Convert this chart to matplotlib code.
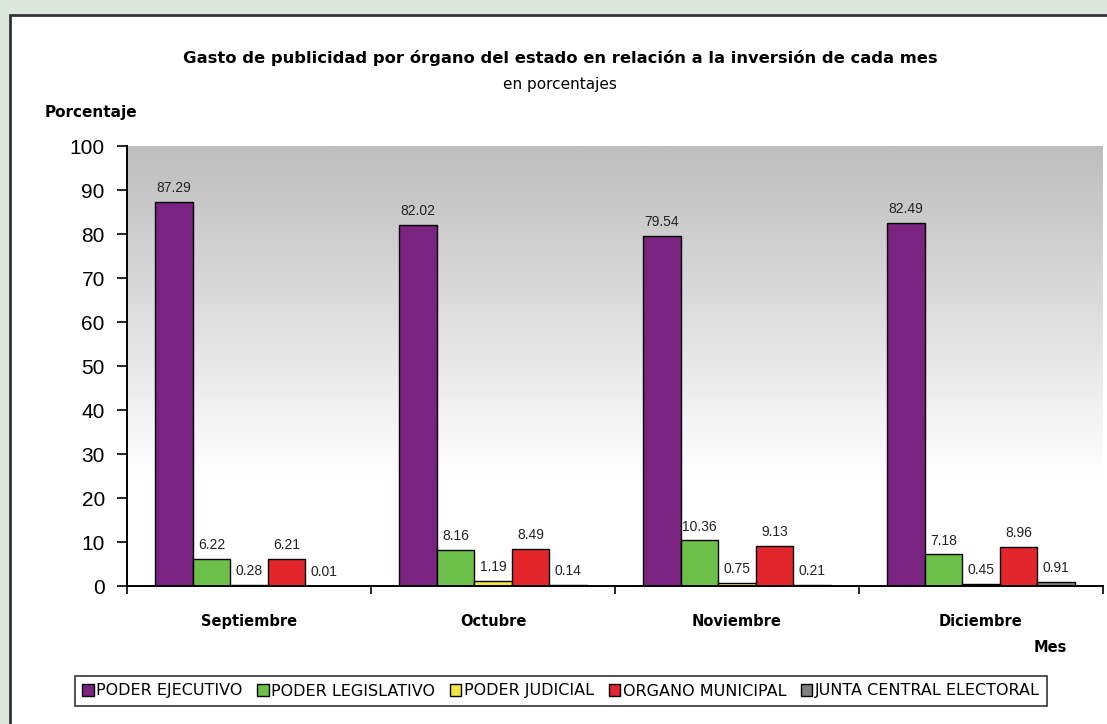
import matplotlib
matplotlib.use("Agg")
import matplotlib.pyplot as plt
import numpy as np
from matplotlib.patches import Rectangle
from matplotlib.colors import LinearSegmentedColormap

months = ["Septiembre", "Octubre", "Noviembre", "Diciembre"]
series_names = [
    "PODER EJECUTIVO",
    "PODER LEGISLATIVO",
    "PODER JUDICIAL",
    "ORGANO MUNICIPAL",
    "JUNTA CENTRAL ELECTORAL",
]
ejecutivo = [87.29, 82.02, 79.54, 82.49]
legislativo = [6.22, 8.16, 10.36, 7.18]
judicial = [0.28, 1.19, 0.75, 0.45]
municipal = [6.21, 8.49, 9.13, 8.96]
junta = [0.01, 0.14, 0.21, 0.91]
yticks = [0, 10, 20, 30, 40, 50, 60, 70, 80, 90, 100]

colors = ["#7b2380", "#6cc04a", "#f2e640", "#e3262b", "#7f7f7f"]
W, H = 1107, 724

fig = plt.figure(figsize=(W / 100, H / 100), dpi=100)
fig.patch.set_facecolor("#dbe7dc")
# white chart sheet with dark frame
fig.add_artist(Rectangle((10 / W, -0.05), 1.2, 1 - 15 / H + 0.05, transform=fig.transFigure,
                         facecolor="white", edgecolor="#333333", linewidth=2.0, zorder=0))

ax = fig.add_axes([127 / W, 138 / H, 976 / W, 440 / H])
ax.set_facecolor("none")

# gray-to-white gradient in plot area
grad = np.linspace(0, 1, 256).reshape(-1, 1)
cmap = LinearSegmentedColormap.from_list("g", [(0, "#ffffff"), (0.25, "#ffffff"), (0.55, "#e4e4e4"), (1, "#bdbdbd")])
ax.imshow(grad, extent=[-0.5, 3.5, 0, 100], origin="lower", aspect="auto", cmap=cmap, zorder=0)

data = [ejecutivo, legislativo, judicial, municipal, junta]
x = np.arange(len(months))
bw = 0.154
for i, (vals, c, name) in enumerate(zip(data, colors, series_names)):
    xs = x + (i - 2) * bw
    ax.bar(xs, vals, width=bw, color=c, edgecolor="black", linewidth=1.0, label=name, zorder=2)
    for xi, v in zip(xs, vals):
        ax.annotate(f"{v:.2f}", (xi, v), xytext=(0, 10), textcoords="offset points",
                    ha="center", va="center", fontsize=10, color="#222222",
                    family="Liberation Sans", zorder=3)

ax.set_xlim(-0.5, 3.5)
ax.set_ylim(0, 100)
ax.set_yticks(yticks)
ax.set_yticklabels([str(t) for t in yticks], family="Liberation Sans", fontsize=15)
ax.tick_params(axis="y", length=7, width=1.2, pad=9)
ax.set_xticks(x)
ax.set_xticklabels(months, fontsize=10.5, fontweight="bold")
ax.tick_params(axis="x", which="major", length=0, pad=20)
ax.set_xticks(np.arange(-0.5, 4.0, 1.0), minor=True)
ax.tick_params(axis="x", which="minor", length=6, width=1.2)
for s in ["top", "right"]:
    ax.spines[s].set_visible(False)
ax.spines["left"].set_linewidth(1.4)
ax.spines["bottom"].set_linewidth(1.4)

fig.text(560 / W, 1 - 58 / H, "Gasto de publicidad por órgano del estado en relación a la inversión de cada mes",
         ha="center", va="center", fontsize=11.8, fontweight="bold")
fig.text(560 / W, 1 - 84 / H, "en porcentajes", ha="center", va="center", fontsize=11)
fig.text(45 / W, 1 - 113 / H, "Porcentaje", ha="left", va="center", fontsize=11, fontweight="bold")
fig.text(1050 / W, 1 - 648 / H, "Mes", ha="center", va="center", fontsize=10.5, fontweight="bold")

leg = fig.legend(loc="center", bbox_to_anchor=(561 / W, 1 - 691 / H), ncol=5, fontsize=11.5,
                 frameon=True, fancybox=False, handlelength=0.7, handleheight=0.7,
                 handletextpad=0.15, columnspacing=0.95, borderpad=0.45, borderaxespad=0)
leg.get_frame().set_edgecolor("black")
leg.get_frame().set_linewidth(1.2)

fig.savefig("out.png", dpi=100, facecolor=fig.get_facecolor())
